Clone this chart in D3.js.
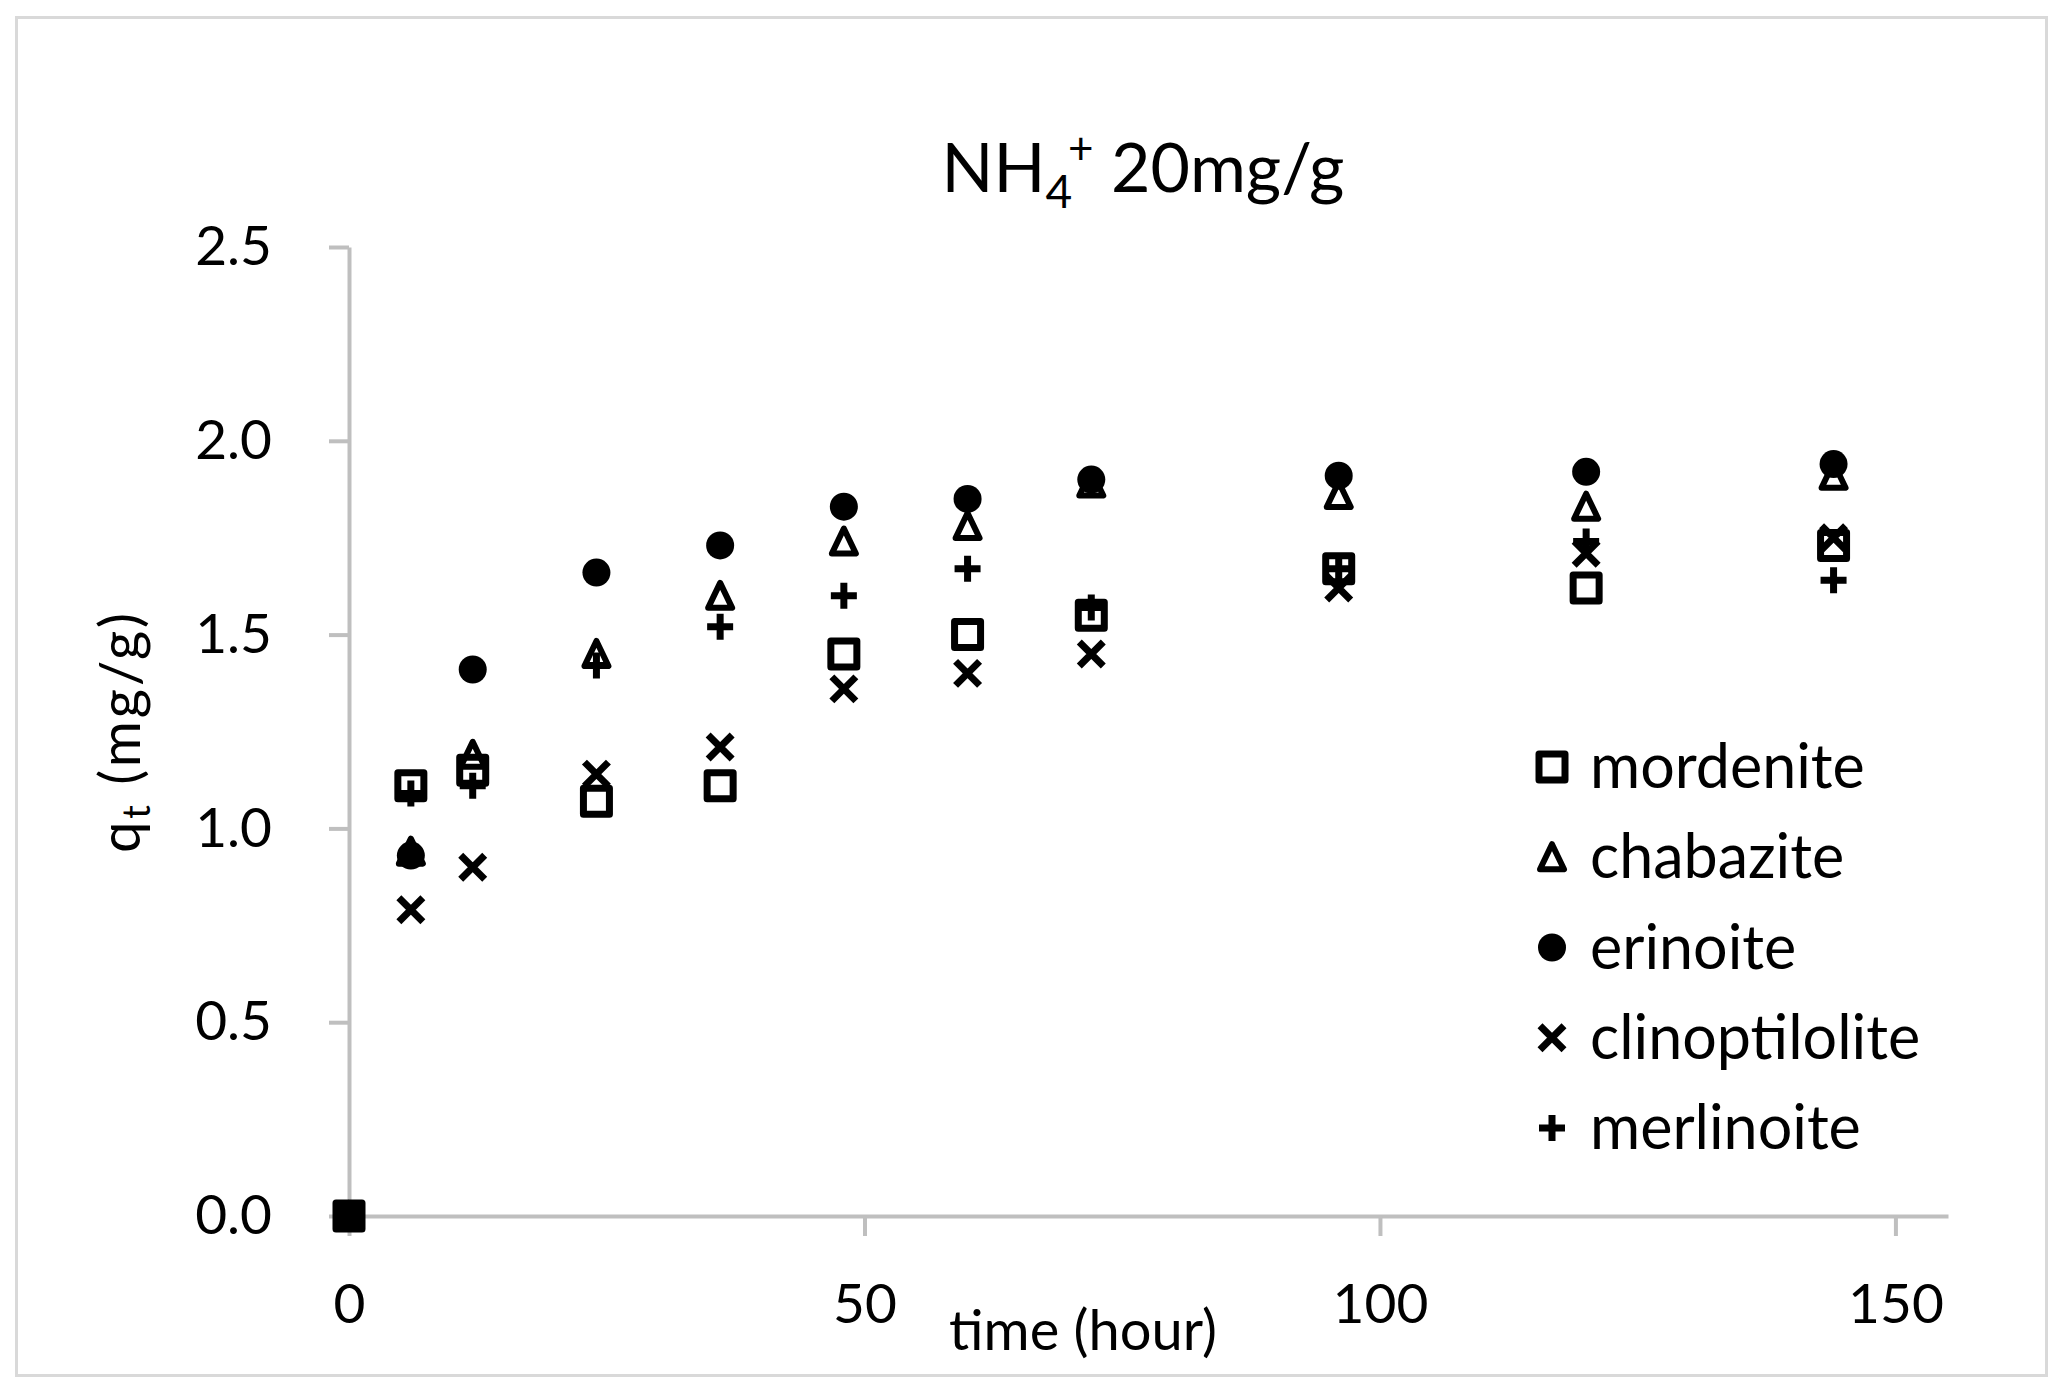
<!DOCTYPE html>
<html>
<head>
<meta charset="utf-8">
<script src="https://cdn.jsdelivr.net/npm/d3@7"></script>
<style>
  html, body { margin: 0; padding: 0; background: #fff; }
  svg text { font-family: Lato, "Open Sans", sans-serif; fill: #000; }
</style>
</head>
<body>
<div id="chart"></div>
<script>
// sampling times (hour)
const times = [0, 6, 12, 24, 36, 48, 60, 72, 96, 120, 144];

// q_t values (mg/g) per zeolite
const mordenite      = [0, 1.11, 1.15, 1.07, 1.11, 1.45, 1.50, 1.55, 1.67, 1.62, 1.73];
const chabazite      = [0, 0.94, 1.19, 1.45, 1.60, 1.74, 1.78, 1.89, 1.86, 1.83, 1.91];
const erinoite       = [0, 0.93, 1.41, 1.66, 1.73, 1.83, 1.85, 1.90, 1.91, 1.92, 1.94];
const clinoptilolite = [0, 0.79, 0.90, 1.14, 1.21, 1.36, 1.40, 1.45, 1.62, 1.71, 1.75];
const merlinoite     = [0, 1.09, 1.11, 1.42, 1.52, 1.60, 1.67, 1.57, 1.67, 1.74, 1.64];

const seriesNames = ['mordenite', 'chabazite', 'erinoite', 'clinoptilolite', 'merlinoite'];
const seriesShapes = ['square', 'triangle', 'circle', 'cross', 'plus'];
const seriesValues = [mordenite, chabazite, erinoite, clinoptilolite, merlinoite];

const xTicks = [0, 50, 100, 150];
const yTicks = [0, 0.5, 1.0, 1.5, 2.0, 2.5];

const width = 2066, height = 1397;
const margin = { left: 349, right: 118, top: 247, bottom: 181 };

const svg = d3.select('#chart')
  .append('svg')
  .attr('width', width)
  .attr('height', height);

// chart area border
svg.append('rect')
  .attr('x', 16.5).attr('y', 17.5)
  .attr('width', 2030).attr('height', 1358)
  .attr('fill', '#fff')
  .attr('stroke', '#d9d9d9')
  .attr('stroke-width', 3);

const x = d3.scaleLinear()
  .domain([0, 155.1])
  .range([margin.left, width - margin.right]);

const y = d3.scaleLinear()
  .domain([0, 2.5])
  .range([height - margin.bottom, margin.top]);

// axes
const xAxis = svg.append('g')
  .attr('transform', `translate(0,${y(0)})`)
  .call(d3.axisBottom(x).tickValues(xTicks).tickSizeInner(20).tickSizeOuter(0).tickPadding(48));

const yAxis = svg.append('g')
  .attr('transform', `translate(${x(0)},0)`)
  .call(d3.axisLeft(y).tickValues(yTicks).tickFormat(d3.format('.1f'))
    .tickSizeInner(20).tickSizeOuter(0).tickPadding(57));

[xAxis, yAxis].forEach(a => {
  a.select('.domain').attr('stroke', '#bfbfbf').attr('stroke-width', 4);
  a.selectAll('.tick line').attr('stroke', '#bfbfbf').attr('stroke-width', 4);
  a.selectAll('.tick text')
    .style('font-family', 'Lato, sans-serif')
    .style('font-size', '55px')
    .attr('fill', '#000');
});

// marker drawing
function drawMarker(g, shape) {
  if (shape === 'square') {
    g.append('rect')
      .attr('x', -13).attr('y', -13).attr('width', 26).attr('height', 26)
      .attr('fill', 'none').attr('stroke', '#000').attr('stroke-width', 7)
      .attr('stroke-linejoin', 'round');
  } else if (shape === 'triangle') {
    g.append('path')
      .attr('d', 'M0,-13 L12,12 L-12,12 Z')
      .attr('fill', 'none').attr('stroke', '#000').attr('stroke-width', 6)
      .attr('stroke-linejoin', 'round');
  } else if (shape === 'circle') {
    g.append('ellipse')
      .attr('rx', 14).attr('ry', 14)
      .attr('fill', '#000');
  } else if (shape === 'cross') {
    g.append('path')
      .attr('d', 'M-12,-12 L12,12 M12,-12 L-12,12')
      .attr('stroke', '#000').attr('stroke-width', 7);
  } else if (shape === 'plus') {
    g.append('path')
      .attr('d', 'M-13,0 L13,0 M0,-13 L0,13')
      .attr('stroke', '#000').attr('stroke-width', 7);
  }
}

// points, series drawn in order
seriesValues.forEach((vals, i) => {
  const pts = times.map((t, j) => ({ t: t, v: vals[j] }));
  svg.append('g')
    .selectAll('g')
    .data(pts)
    .enter()
    .append('g')
    .attr('transform', d => `translate(${x(d.t)},${y(d.v)})`)
    .each(function () { drawMarker(d3.select(this), seriesShapes[i]); });
});

// title
const title = svg.append('text')
  .attr('x', 1143).attr('y', 192)
  .attr('text-anchor', 'middle')
  .style('font-size', '68px');
title.append('tspan').text('NH');
title.append('tspan').text('4').attr('dy', 16).style('font-size', '46px');
title.append('tspan').text('+').attr('dx', -4).attr('dy', -44).style('font-size', '44px');
title.append('tspan').text(' 20mg/g').attr('dy', 28);

// axis titles
svg.append('text')
  .attr('x', 1083).attr('y', 1350)
  .attr('text-anchor', 'middle')
  .style('font-size', '56px')
  .text('time (hour)');

const yTitle = svg.append('text')
  .attr('transform', `translate(140,${(y(0) + y(2.5)) / 2}) rotate(-90)`)
  .attr('text-anchor', 'middle')
  .style('font-size', '56px')
  .style('letter-spacing', '3px');
yTitle.append('tspan').text('q');
yTitle.append('tspan').text('t').attr('dy', 10).style('font-size', '38px');
yTitle.append('tspan').text(' (mg/g)').attr('dy', -10);

// legend
const legend = svg.append('g');
seriesNames.forEach((name, i) => {
  const row = legend.append('g')
    .attr('transform', `translate(1552,${767 + i * 90.25})`);
  drawMarker(row, seriesShapes[i]);
  row.append('text')
    .attr('x', 38).attr('y', 21)
    .style('font-size', '61px')
    .text(name);
});
</script>
</body>
</html>
